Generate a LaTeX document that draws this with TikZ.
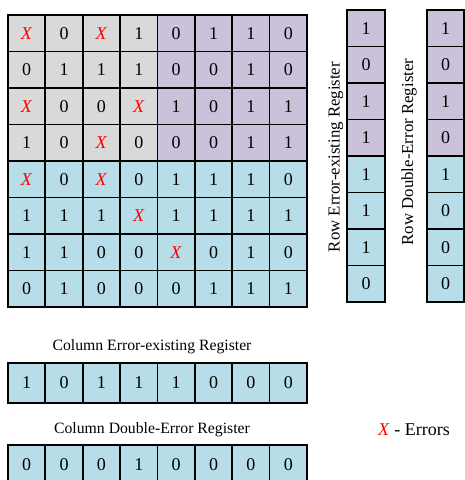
\documentclass[tikz,border=0pt]{standalone}
\usepackage{fontspec}
\setmainfont{Liberation Serif}
\usetikzlibrary{positioning}
\definecolor{cellgray}{HTML}{D9D9D9}
\definecolor{cellpurple}{HTML}{CCC1DA}
\definecolor{cellblue}{HTML}{B7DDE8}
\newcommand{\err}{\textcolor{red}{\textit{X}}}

\begin{document}
\begin{tikzpicture}[x=0.75pt,y=-0.75pt,
  bitcell/.style={draw, line width=1.3pt, inner sep=0pt,
    minimum width=28.05pt, minimum height=27.4pt,
    font=\fontsize{13.5}{13.5}\selectfont},
  colcell/.style={bitcell, minimum height=30pt, fill=cellblue},
  reglabel/.style={font=\fontsize{11.8}{12}\selectfont}]
  \useasboundingbox (0,0) rectangle (465,480);
  \clip (0,0) rectangle (465,480);
  % data array
  \foreach \row [count=\r] in {{\err,0,\err,1,0,1,1,0},{0,1,1,1,0,0,1,0},
      {\err,0,0,\err,1,0,1,1},{1,0,\err,0,0,0,1,1},{\err,0,\err,0,1,1,1,0},
      {1,1,1,\err,1,1,1,1},{1,1,0,0,\err,0,1,0},{0,1,0,0,0,1,1,1}}{
    \foreach \b [count=\c] in \row {
      \ifnum\r>4 \def\cellcol{cellblue}\else
        \ifnum\c>4 \def\cellcol{cellpurple}\else\def\cellcol{cellgray}\fi\fi
      \node[bitcell, fill=\cellcol] (c-\r-\c) at ({8+37.375*(\c-0.5)},{15+36.5*(\r-0.5)}) {\b};
    }
  }
  % row registers
  \foreach \b [count=\r] in {1,0,1,1,1,1,1,0}{
    \ifnum\r>4 \def\cellcol{cellblue}\else\def\cellcol{cellpurple}\fi
    \node[bitcell, fill=\cellcol] (re-\r) at (366,{10+36.5*(\r-0.5)}) {\b};
  }
  \foreach \b [count=\r] in {1,0,1,0,1,0,0,0}{
    \ifnum\r>4 \def\cellcol{cellblue}\else\def\cellcol{cellpurple}\fi
    \node[bitcell, fill=\cellcol] (rd-\r) at (445.5,{10+36.5*(\r-0.5)}) {\b};
  }
  \node[reglabel, font=\fontsize{12.6}{13}\selectfont, rotate=90] (relabel) at (336,157) {Row Error-existing Register};
  \node[reglabel, font=\fontsize{12.6}{13}\selectfont, rotate=90] (rdlabel) at (409,152) {Row Double-Error Register};
  % column registers
  \foreach \b [count=\c] in {1,0,1,1,1,0,0,0}
    \node[colcell] (ce-\c) at ({8+37.375*(\c-0.5)},383) {\b};
  \foreach \b [count=\c] in {0,0,0,1,0,0,0,0}
    \node[colcell] (cd-\c) at ({8+37.375*(\c-0.5)},465) {\b};
  \node[reglabel] (celabel) at (152,347) {Column Error-existing Register};
  \node[reglabel] (cdlabel) at (152,430) {Column Double-Error Register};
  % legend
  \node[font=\fontsize{13.5}{14}\selectfont] (legend) at (414,430) {\err{} - Errors};
\end{tikzpicture}
\end{document}
